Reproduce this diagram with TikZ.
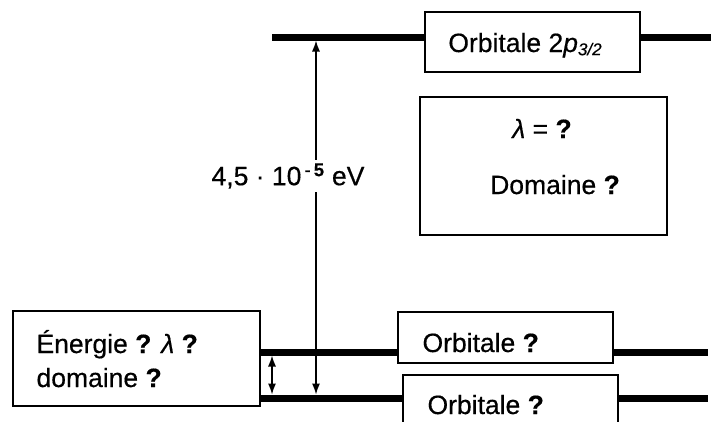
\documentclass[tikz,border=0pt]{standalone}
\usepackage{fontspec}
\setmainfont[FakeBold=0.4]{Liberation Sans}
\usetikzlibrary{arrows.meta}
\begin{document}
\begin{tikzpicture}[x=1pt,y=-1pt,
  lvl/.style={line width=7pt},
  obox/.style={draw, line width=1.3pt, fill=white, inner sep=0pt, rectangle},
  txt/.style={font=\fontsize{26.5}{34}\selectfont},
  dimarrow/.style={line width=1.3pt, {Latex[length=11pt,width=8pt]}-{Latex[length=11pt,width=8pt]}}]
\useasboundingbox (0,0) rectangle (711,421);
% boxes
\node[obox, minimum width=215pt, minimum height=60pt] (top) at (532.5,42) {};
\node[txt, anchor=base] (toptxt) at (525,52) {Orbitale 2\textit{p}\raisebox{-0.12em}{\fontsize{17}{17}\selectfont\textit{3/2}}};
\node[obox, minimum width=247pt, minimum height=138pt] (mid) at (543.5,166) {};
\node[txt, anchor=base] (lam) at (542,138) {\textit{λ} = \textbf{?}};
\node[txt, anchor=base] (dom) at (555,194) {Domaine \textbf{?}};
\node[obox, minimum width=247pt, minimum height=95pt] (left) at (136.5,358.5) {};
\node[txt, anchor=base west] (en) at (33,353) {Énergie \textbf{?} \textit{λ} \textbf{?}};
\node[txt, anchor=base west] (dm) at (33,387) {domaine \textbf{?}};
\node[obox, minimum width=215pt, minimum height=51pt] (o1) at (505.5,337.5) {};
\node[txt, anchor=base west] (o1t) at (419,352) {Orbitale \textbf{?}};
\node[obox, minimum width=215pt, minimum height=50pt] (o2) at (510.5,400) {};
\node[txt, anchor=base west] (o2t) at (424,414) {Orbitale \textbf{?}};
% levels
\coordinate (ts) at (272,37);
\coordinate (te) at (711,37);
\coordinate (us) at (260,352);
\coordinate (ue) at (708,352);
\coordinate (ls) at (260,398);
\coordinate (le) at (708,398);
\draw[lvl] (ts) -- (top.west |- ts);
\draw[lvl] (top.east |- te) -- (te);
\draw[lvl] (us) -- (o1.west |- us);
\draw[lvl] (o1.east |- ue) -- (ue);
\draw[lvl] (ls) -- (o2.west |- ls);
\draw[lvl] (o2.east |- le) -- (le);
% arrows
\coordinate (a1) at (316,40.5);
\coordinate (a2) at (316,394.5);
\draw[dimarrow] (a1) -- (a2);
\node[txt, fill=white, inner sep=3pt] (gap) at (288,176) {4,5 · 10\textsuperscript{\,-\,\textbf{5}} eV};
\coordinate (b1) at (272,355.5);
\coordinate (b2) at (272,394.5);
\draw[dimarrow] (b1) -- (b2);
\end{tikzpicture}
\end{document}
